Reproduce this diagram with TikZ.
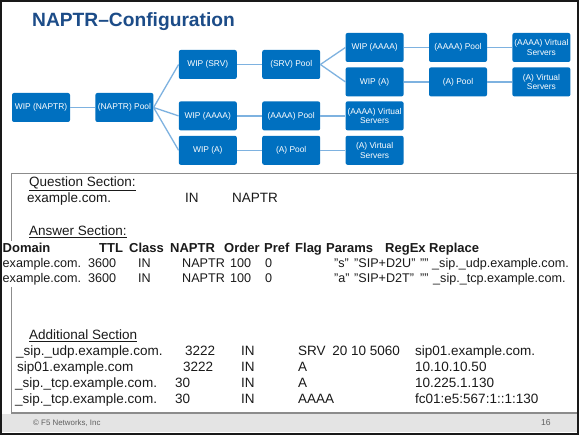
\documentclass[tikz,border=0pt]{standalone}
\usepackage{fontspec}
\setmainfont{Liberation Sans}
\usepackage{tikz}
\usetikzlibrary{positioning}
\definecolor{nxBlue}{HTML}{0070C0}
\definecolor{nxLink}{HTML}{7EB2E0}
\definecolor{nxTitle}{HTML}{1C4C88}
\definecolor{nxText}{HTML}{1A1A1A}
\definecolor{nxRule}{HTML}{8C8C8C}
\definecolor{nxFoot}{HTML}{E4E4E4}
\definecolor{nxMute}{HTML}{606060}
\newcommand\qq[1]{\char34 #1\char34}
\tikzset{
  nxnode/.style={
    fill=nxBlue, rounded corners=2pt, minimum width=58pt, minimum height=29pt,
    inner sep=1pt, text=white, font=\fontsize{8.4}{9.6}\selectfont, align=center
  },
  link/.style={nxLink, line width=1.3pt},
  cell/.style={anchor=base west, inner sep=0pt, text=nxText, font=\fontsize{13.5}{16}\selectfont},
  rowcell/.style={cell, font=\fontsize{12.6}{16}\selectfont},
  headcell/.style={cell, font=\fontsize{13}{16}\selectfont\bfseries},
  boxline/.style={nxRule, line width=1.2pt},
  foot/.style={anchor=base west, inner sep=0pt, text=nxMute, font=\fontsize{7.9}{9}\selectfont}
}

\begin{document}
\begin{tikzpicture}[x=1pt, y=-1pt, node distance=25pt]
  \useasboundingbox (0,0) rectangle (579,435);
  \fill[white] (0,0) rectangle (579,435);
  \node[anchor=base west, inner sep=0pt, text=nxTitle, font=\fontsize{19.2}{22}\selectfont\bfseries] (title) at (32,27) {NAPTR–Configuration};

  \node[nxnode] (wnaptr) at (41,107.5) {WIP (NAPTR)};
  \node[nxnode, right=of wnaptr] (pnaptr) {(NAPTR) Pool};
  \node[nxnode, right=of pnaptr, yshift=43pt] (wsrv) {WIP (SRV)};
  \node[nxnode, below=22pt of wsrv] (waaaa) {WIP (AAAA)};
  \node[nxnode, below=5pt of waaaa] (wa) {WIP (A)};
  \node[nxnode, right=of wsrv] (psrv) {(SRV) Pool};
  \node[nxnode, right=of waaaa] (paaaa) {(AAAA) Pool};
  \node[nxnode, right=of wa] (pa) {(A) Pool};
  \node[nxnode, right=of paaaa] (vaaaa) {(AAAA) Virtual\\Servers};
  \node[nxnode, right=of pa] (va) {(A) Virtual\\Servers};
  \node[nxnode, right=of psrv, yshift=17pt] (swaaaa) {WIP (AAAA)};
  \node[nxnode, below=5pt of swaaaa] (swa) {WIP (A)};
  \node[nxnode, right=of swaaaa] (spaaaa) {(AAAA) Pool};
  \node[nxnode, right=of swa] (spa) {(A) Pool};
  \node[nxnode, right=of spaaaa] (svaaaa) {(AAAA) Virtual\\Servers};
  \node[nxnode, right=of spa] (sva) {(A) Virtual\\Servers};
  \foreach \a/\b in {wnaptr/pnaptr, pnaptr/wsrv, pnaptr/waaaa, pnaptr/wa, wsrv/psrv, psrv/swaaaa, psrv/swa,
    swaaaa/spaaaa, swa/spa, spaaaa/svaaaa, spa/sva, waaaa/paaaa, wa/pa, paaaa/vaaaa, pa/va}
    {\draw[link] (\a.east) -- (\b.west);}

  \fill[nxFoot] (2,413.6) rectangle (577,432);
  \draw[boxline] (11.5,241) -- (11.5,173.3) -- (579,173.3);
  \draw[boxline] (11.5,287) -- (11.5,413) -- (579,413);

  \node[cell] (qsec) at (29,186.5) {\underline{Question Section:}};
  \foreach \x/\t [count=\i] in {27/example.com., 185/IN, 232/NAPTR}
    {\node[cell] (q\i) at (\x,202.5) {\t};}

  \node[cell] (asec) at (29,235.5) {\underline{Answer Section:}};
  \foreach \x/\t [count=\i] in {2.5/Domain, 99/TTL, 129/Class, 170/NAPTR, 224/Order, 264/Pref,
    295/Flag, 326/Params, 385/RegEx, 429/Replace}
    {\node[headcell] (h\i) at (\x,252.5) {\t};}
  \foreach \x/\t [count=\i] in {2.5/example.com., 88/3600, 138/IN, 182/NAPTR, 230/100, 265/0,
    334/\qq{s}, 354/\qq{SIP+D2U}, 420/\qq{}, 432/\_sip.\_udp.example.com.}
    {\node[rowcell] (u\i) at (\x,267.5) {\t};}
  \foreach \x/\t [count=\i] in {2.5/example.com., 88/3600, 138/IN, 182/NAPTR, 230/100, 265/0,
    334/\qq{a}, 354/\qq{SIP+D2T}, 420/\qq{}, 433/\_sip.\_tcp.example.com.}
    {\node[rowcell] (t\i) at (\x,282.5) {\t};}

  \node[cell] (dsec) at (29,339.5) {\underline{Additional Section}};
  \foreach \x/\t [count=\i] in {16/\_sip.\_udp.example.com., 185/3222, 241/IN,
    298/SRV\enspace 20 10 5060, 415/sip01.example.com.}
    {\node[cell] (da\i) at (\x,356) {\t};}
  \foreach \x/\t [count=\i] in {17/sip01.example.com, 183/3222, 241/IN, 298/A, 415/10.10.10.50}
    {\node[cell] (db\i) at (\x,372) {\t};}
  \foreach \x/\t [count=\i] in {15/\_sip.\_tcp.example.com., 175/30, 241/IN, 298/A, 415/10.225.1.130}
    {\node[cell] (dc\i) at (\x,388) {\t};}
  \foreach \x/\t [count=\i] in {15/\_sip.\_tcp.example.com., 175/30, 241/IN, 298/AAAA, 415/fc01:e5:567:1::1:130}
    {\node[cell] (dd\i) at (\x,403.5) {\t};}

  \node[foot] (copy) at (33,425.8) {© F5 Networks, Inc};
  \node[foot, font=\fontsize{8.6}{10}\selectfont] (page) at (541,425.8) {16};

  \draw[line width=2.4pt, black!90] (1.2,1.2) rectangle (577.8,433.8);
\end{tikzpicture}
\end{document}
